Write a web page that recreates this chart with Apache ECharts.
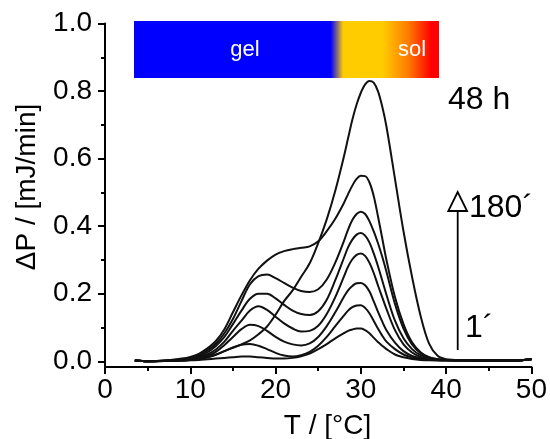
<!DOCTYPE html>
<html><head><meta charset="utf-8">
<script src="https://cdn.jsdelivr.net/npm/echarts@6/dist/echarts.min.js"></script>
<style>html,body{margin:0;padding:0;background:#fff}#c{width:550px;height:439px}</style>
</head><body><div id="c"></div>
<script>
// Temperature grid (°C)
const temps = [3.5, 5, 7, 9, 10, 11, 12, 13, 14, 15, 16, 17, 18, 19, 20, 21, 22, 23, 24, 25, 26, 27, 28, 28.5, 29, 29.5, 30, 30.5, 31, 31.5, 32, 32.5, 33, 34, 35, 36, 37, 38, 39, 40, 42, 45, 48, 50];

// ΔP (mJ/min) curves
const curve48h = [0.002, 0.0, 0.001, 0.002, 0.004, 0.008, 0.013, 0.02, 0.03, 0.04, 0.05, 0.062, 0.08, 0.103, 0.138, 0.178, 0.21, 0.25, 0.29, 0.35, 0.42, 0.505, 0.605, 0.66, 0.715, 0.76, 0.795, 0.82, 0.83, 0.825, 0.8, 0.755, 0.695, 0.54, 0.385, 0.25, 0.135, 0.052, 0.016, 0.006, 0.003, 0.002, 0.002, 0.007];
const curve180 = [0.002, 0.0, 0.002, 0.008, 0.013, 0.022, 0.038, 0.06, 0.095, 0.145, 0.195, 0.24, 0.274, 0.298, 0.316, 0.326, 0.332, 0.336, 0.34, 0.355, 0.385, 0.422, 0.468, 0.495, 0.52, 0.54, 0.549, 0.548, 0.53, 0.49, 0.43, 0.365, 0.3, 0.19, 0.11, 0.056, 0.027, 0.012, 0.006, 0.004, 0.003, 0.002, 0.002, 0.006];
const curveA = [0.002, 0.0, 0.002, 0.006, 0.01, 0.018, 0.032, 0.052, 0.083, 0.125, 0.178, 0.228, 0.252, 0.257, 0.246, 0.232, 0.218, 0.208, 0.205, 0.213, 0.242, 0.292, 0.355, 0.39, 0.418, 0.436, 0.443, 0.436, 0.415, 0.385, 0.35, 0.31, 0.265, 0.17, 0.097, 0.05, 0.024, 0.011, 0.006, 0.004, 0.003, 0.002, 0.002, 0.006];
const curveB = [0.002, 0.0, 0.002, 0.005, 0.008, 0.014, 0.026, 0.045, 0.072, 0.11, 0.15, 0.185, 0.2, 0.2, 0.186, 0.167, 0.15, 0.14, 0.137, 0.148, 0.182, 0.24, 0.305, 0.337, 0.36, 0.375, 0.38, 0.372, 0.352, 0.32, 0.282, 0.24, 0.197, 0.12, 0.068, 0.036, 0.018, 0.009, 0.005, 0.004, 0.003, 0.002, 0.002, 0.006];
const curveC = [0.002, 0.0, 0.001, 0.004, 0.006, 0.011, 0.02, 0.035, 0.058, 0.09, 0.12, 0.15, 0.163, 0.152, 0.132, 0.112, 0.097, 0.088, 0.09, 0.105, 0.14, 0.19, 0.25, 0.28, 0.302, 0.315, 0.319, 0.312, 0.292, 0.262, 0.225, 0.19, 0.155, 0.092, 0.05, 0.026, 0.013, 0.007, 0.004, 0.003, 0.003, 0.002, 0.002, 0.006];
const curveD = [0.002, 0.0, 0.001, 0.003, 0.005, 0.008, 0.015, 0.028, 0.048, 0.072, 0.095, 0.108, 0.104, 0.09, 0.072, 0.058, 0.05, 0.047, 0.053, 0.072, 0.104, 0.145, 0.19, 0.21, 0.223, 0.231, 0.232, 0.225, 0.207, 0.178, 0.147, 0.118, 0.092, 0.055, 0.03, 0.016, 0.009, 0.005, 0.003, 0.003, 0.002, 0.002, 0.002, 0.006];
const curveE = [0.002, 0.0, 0.001, 0.002, 0.004, 0.006, 0.011, 0.019, 0.03, 0.041, 0.049, 0.051, 0.046, 0.036, 0.025, 0.017, 0.014, 0.018, 0.028, 0.046, 0.072, 0.104, 0.135, 0.15, 0.16, 0.165, 0.166, 0.158, 0.142, 0.12, 0.097, 0.076, 0.058, 0.036, 0.02, 0.011, 0.006, 0.004, 0.003, 0.003, 0.002, 0.002, 0.002, 0.006];
const curveF = [0.002, 0.0, 0.001, 0.002, 0.003, 0.004, 0.006, 0.008, 0.01, 0.012, 0.014, 0.014, 0.012, 0.01, 0.008, 0.008, 0.01, 0.015, 0.023, 0.036, 0.051, 0.068, 0.083, 0.09, 0.094, 0.097, 0.097, 0.092, 0.083, 0.07, 0.057, 0.046, 0.036, 0.02, 0.012, 0.007, 0.004, 0.003, 0.003, 0.002, 0.002, 0.002, 0.002, 0.006];

const allCurves = [curve48h, curve180, curveA, curveB, curveC, curveD, curveE, curveF];

// Tick labels
const yMajorTicks = [0, 0.2, 0.4, 0.6, 0.8, 1.0];
const yMinorTicks = [0.1, 0.3, 0.5, 0.7, 0.9];

const FONT = '"Liberation Sans", Arial, sans-serif';
const chart = echarts.init(document.getElementById('c'), null, {renderer: 'canvas'});

const series = allCurves.map(vals => ({
  type: 'line',
  data: temps.map((t, i) => [t, vals[i]]),
  showSymbol: false,
  smooth: 0.35,
  lineStyle: {color: '#111', width: 2},
  itemStyle: {color: '#111'},
  z: 3
}));

chart.setOption({
  animation: false,
  grid: {left: 105, right: 18, top: 23.5, bottom: 72},
  xAxis: {
    type: 'value', min: 0, max: 50, interval: 10,
    axisLine: {onZero: false, lineStyle: {color: '#000', width: 2}},
    axisTick: {length: 7, lineStyle: {width: 2, color: '#000'}},
    minorTick: {show: true, splitNumber: 2, length: 4, lineStyle: {width: 2, color: '#000'}},
    splitLine: {show: false},
    axisLabel: {fontSize: 28, color: '#000', fontFamily: FONT, margin: 9}
  },
  yAxis: [{
    type: 'value', min: -0.017, max: 1.0, position: 'left',
    axisLine: {show: true, onZero: false, lineStyle: {color: '#000', width: 2}},
    axisTick: {show: true, customValues: yMajorTicks, length: 7, lineStyle: {width: 2, color: '#000'}},
    axisLabel: {customValues: yMajorTicks, formatter: v => v.toFixed(1), fontSize: 28, color: '#000', fontFamily: FONT, margin: 13},
    splitLine: {show: false}
  }, {
    type: 'value', min: -0.017, max: 1.0, position: 'left',
    axisLine: {show: false},
    axisTick: {show: true, customValues: yMinorTicks, length: 4, lineStyle: {width: 2, color: '#000'}},
    axisLabel: {show: false},
    splitLine: {show: false}
  }],
  series: series,
  graphic: [
    {type: 'rect', shape: {x: 134, y: 21, width: 305, height: 57}, z: 10,
     style: {fill: new echarts.graphic.LinearGradient(0, 0, 1, 0, [
       {offset: 0, color: '#0000ff'}, {offset: 0.645, color: '#0000ff'},
       {offset: 0.686, color: '#ffcc00'}, {offset: 0.815, color: '#ffcc00'},
       {offset: 0.9, color: '#ff7a00'},
       {offset: 0.975, color: '#ff0000'}, {offset: 1, color: '#ff0000'}])}},
    {type: 'text', x: 245, y: 50, z: 11, style: {text: 'gel', fill: '#fff', fontSize: 22, fontFamily: FONT, align: 'center', verticalAlign: 'middle'}},
    {type: 'text', x: 412, y: 50, z: 11, style: {text: 'sol', fill: '#fff', fontSize: 22, fontFamily: FONT, align: 'center', verticalAlign: 'middle'}},
    {type: 'text', x: 448, y: 100, z: 11, style: {text: '48 h', fill: '#000', fontSize: 32, fontFamily: FONT, align: 'left', verticalAlign: 'middle'}},
    {type: 'text', x: 469, y: 208, z: 11, style: {text: '180´', fill: '#000', fontSize: 32, fontFamily: FONT, align: 'left', verticalAlign: 'middle'}},
    {type: 'text', x: 465, y: 328, z: 11, style: {text: '1´', fill: '#000', fontSize: 32, fontFamily: FONT, align: 'left', verticalAlign: 'middle'}},
    {type: 'line', z: 11, shape: {x1: 457.7, y1: 211, x2: 457.7, y2: 350}, style: {stroke: '#000', lineWidth: 1.8}},
    {type: 'polygon', z: 12, shape: {points: [[457.7, 192], [448.3, 211], [467.1, 211]]}, style: {fill: '#fff', stroke: '#000', lineWidth: 1.8}},
    {type: 'text', x: 27, y: 187, rotation: Math.PI / 2, z: 11, style: {text: 'ΔP / [mJ/min]', fill: '#000', fontSize: 28, fontFamily: FONT, align: 'center', verticalAlign: 'middle'}},
    {type: 'text', x: 327.5, y: 426, z: 11, style: {text: 'T / [°C]', fill: '#000', fontSize: 28, fontFamily: FONT, align: 'center', verticalAlign: 'middle'}}
  ]
});
</script>
</body></html>
